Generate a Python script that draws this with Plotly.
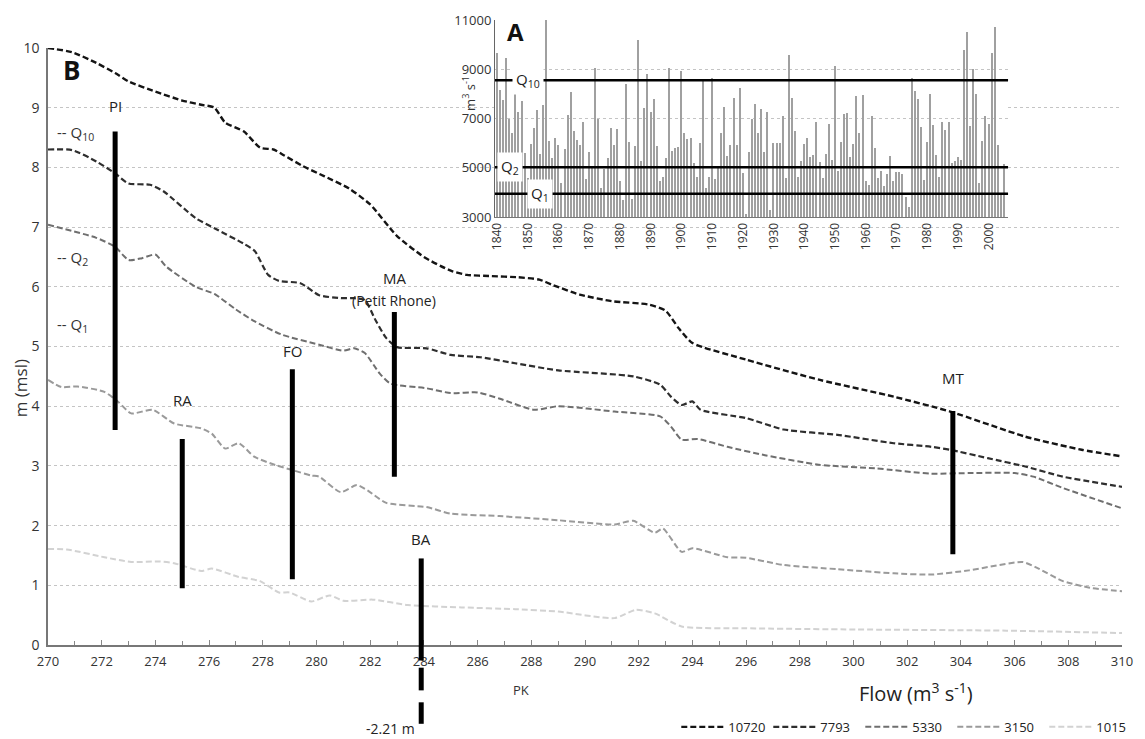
import plotly.graph_objects as go

# ---------------- main panel (B): water level profiles ----------------
km_10720 = [270, 270.9, 271.8, 272.5, 273, 274, 275, 275.7, 276.2, 276.6, 277.3, 277.9, 278.4, 278.8, 279.5,
            280.3, 281.2, 282, 283, 284, 285, 285.6, 286.5, 287.5, 288.3, 288.8, 289.8, 291, 292.4, 293,
            293.5, 294, 296, 298.75, 301.5, 303.6, 306.4, 308.5, 310]
lv_10720 = [10.0, 9.93, 9.75, 9.58, 9.44, 9.27, 9.12, 9.05, 9.0, 8.75, 8.6, 8.33, 8.3, 8.2, 8.02,
            7.85, 7.65, 7.38, 6.85, 6.5, 6.27, 6.2, 6.18, 6.16, 6.12, 6.03, 5.87, 5.76, 5.7, 5.6,
            5.3, 5.06, 4.78, 4.44, 4.16, 3.91, 3.49, 3.27, 3.16]

km_7793 = [270, 270.9, 271.8, 272.5, 273, 273.8, 274.3, 275.5, 276.2, 277.3, 277.7, 278.2, 278.6, 279.4,
           280.1, 280.9, 281.4, 281.8, 282.2, 282.6, 283, 284.1, 285, 286.1, 287.4, 289, 291.8, 292.8,
           293.2, 293.6, 294, 294.3, 296, 297.4, 299.4, 301.5, 302.9, 303.6, 305, 306.4, 307.8, 310]
lv_7793 = [8.3, 8.29, 8.1, 7.9, 7.73, 7.71, 7.6, 7.15, 6.98, 6.72, 6.6, 6.2, 6.1, 6.06,
           5.86, 5.81, 5.81, 5.78, 5.44, 5.14, 4.99, 4.97, 4.86, 4.82, 4.72, 4.6, 4.5, 4.36,
           4.16, 4.02, 4.08, 3.94, 3.8, 3.61, 3.52, 3.38, 3.32, 3.27, 3.13, 2.99, 2.82, 2.65]

km_5330 = [270, 271.8, 272.5, 273, 273.5, 274, 274.4, 275.5, 276.2, 277, 277.7, 278.7, 280.1, 281.0,
           281.4, 281.8, 282.35, 282.75, 284.1, 285, 286, 286.8, 288.1, 289, 291.1, 292.8, 293.2,
           293.6, 294.2, 295.3, 296.7, 298.7, 300.8, 302.9, 304.3, 306, 306.7, 307.8, 310]
lv_5330 = [7.04, 6.82, 6.67, 6.45, 6.48, 6.54, 6.34, 6.0, 5.88, 5.62, 5.42, 5.2, 5.03, 4.93,
           4.97, 4.89, 4.55, 4.38, 4.3, 4.22, 4.23, 4.13, 3.94, 4.0, 3.91, 3.83, 3.66,
           3.44, 3.45, 3.32, 3.18, 3.02, 2.96, 2.87, 2.88, 2.88, 2.82, 2.63, 2.29]

km_3150 = [270, 270.5, 271.1, 272.1, 272.6, 273.1, 273.9, 274.7, 275.7, 276.1, 276.6, 277.1, 277.7,
           278.5, 279.1, 279.8, 280.1, 280.9, 281.5, 281.9, 282.6, 284.1, 285, 286.8, 289, 291.1,
           291.8, 292.6, 292.9, 293.6, 294, 295.3, 296, 297.4, 299.4, 301.5, 302.9, 304.3, 306.3,
           306.8, 307.8, 308.8, 310]
lv_3150 = [4.44, 4.32, 4.33, 4.24, 4.08, 3.88, 3.94, 3.71, 3.63, 3.54, 3.29, 3.38, 3.15,
           3.01, 2.93, 2.84, 2.82, 2.56, 2.68, 2.59, 2.38, 2.31, 2.2, 2.16, 2.09, 2.02,
           2.08, 1.88, 1.95, 1.56, 1.62, 1.47, 1.46, 1.34, 1.27, 1.2, 1.18, 1.25, 1.39,
           1.3, 1.07, 0.96, 0.9]

km_1015 = [270, 270.7, 272.1, 273.1, 274.1, 274.7, 275.7, 276.1, 277.1, 277.9, 278.6, 279.0, 279.8,
           280.5, 281.0, 282.1, 283.4, 285.4, 287.4, 289, 291.1, 291.9, 292.6, 293.6, 296, 300.1,
           305.7, 310]
lv_1015 = [1.61, 1.6, 1.47, 1.39, 1.4, 1.37, 1.24, 1.28, 1.14, 1.07, 0.88, 0.88, 0.73,
           0.83, 0.74, 0.76, 0.67, 0.63, 0.6, 0.56, 0.45, 0.59, 0.53, 0.31, 0.28, 0.26,
           0.24, 0.2]

series_names = ["10720", "7793", "5330", "3150", "1015"]
series_km = [km_10720, km_7793, km_5330, km_3150, km_1015]
series_lv = [lv_10720, lv_7793, lv_5330, lv_3150, lv_1015]
series_col = ["#141414", "#2e2e2e", "#6f6f6f", "#9a9a9a", "#d2d2d2"]
series_w = [2.4, 2.2, 2.0, 2.0, 2.0]

# gauging stations: name, km, min level, max level
st_names = ["PI", "RA", "FO", "MA", "BA", "MT"]
st_km = [272.5, 275.0, 279.1, 282.9, 283.9, 303.7]
st_low = [3.6, 0.95, 1.1, 2.82, -2.21, 1.52]
st_high = [8.6, 3.45, 4.62, 5.58, 1.45, 3.92]
st_label_y = [9.03, 4.1, 4.93, 6.15, 1.78, 4.48]

# Q markers on main panel (m)
q_names = ["Q<sub>10</sub>", "Q<sub>2</sub>", "Q<sub>1</sub>"]
q_levels_m = [8.58, 6.48, 5.36]

# ---------------- inset (A): annual peak flow ----------------
years = list(range(1840, 2006))
flows = [
    9640, 8150, 7770, 9440, 6960, 6430, 8220, 7250, 7710, 5580,
    4600, 5950, 6600, 7350, 5550, 7550, 11000, 6090, 5380, 6200,
    5930, 4370, 5760, 7140, 8090, 6490, 6130, 5930, 6870, 4540,
    5650, 5000, 9050, 6980, 4190, 4950, 5380, 6600, 5930, 6580,
    4480, 3690, 8390, 6060, 3730, 5880, 10190, 5290, 7440, 8790,
    7250, 7790, 5900, 4460, 4640, 5380, 9040, 5680, 5820, 5860,
    8930, 6400, 6170, 6220, 5200, 4640, 5990, 8520, 4190, 4640,
    8660, 4530, 4980, 6400, 7450, 5480, 5930, 7850, 5930, 8250,
    4770, 3100, 5630, 6980, 7580, 6400, 7370, 5630, 7250, 3280,
    5990, 5990, 5990, 7120, 4570, 9580, 7820, 6490, 4610, 5290,
    5950, 6220, 5450, 5520, 6870, 5250, 4570, 5550, 6760, 5320,
    9150, 4870, 6060, 7170, 7210, 5450, 5950, 7910, 6400, 7960,
    4440, 4300, 7100, 5790, 4570, 4870, 4270, 4730, 5480, 4460,
    4840, 4830, 4760, 3810, 3400, 8650, 8130, 7790, 6660, 4490,
    6050, 7990, 6730, 5510, 4630, 6860, 6530, 6840, 5200, 5260,
    5440, 5300, 9780, 10500, 6690, 8990, 7990, 4380, 6090, 7100,
    6770, 9640, 10700, 5940, 3980, 5170,
]
inset_q_names = ["Q<sub>10</sub>", "Q<sub>2</sub>", "Q<sub>1</sub>"]
inset_q_flow = [8550, 5020, 3940]
inset_q_label_year = [1850.2, 1844.3, 1853.8]
inset_year_ticks = list(range(1840, 2001, 10))
inset_flow_ticks = [3000, 5000, 7000, 9000, 11000]

# ---------------- axis setup ----------------
X_RANGE = [270, 310]
Y_RANGE = [0, 10]
Y_DOMAIN = [0, 0.9476]
X2_RANGE = [1839.3, 2006.3]
Y2_RANGE = [3000, 11000]
FONT = "Open Sans"


def y_paper_from_domain(frac):
    return Y_DOMAIN[0] + frac * (Y_DOMAIN[1] - Y_DOMAIN[0])


def x_paper(km):
    return (km - X_RANGE[0]) / (X_RANGE[1] - X_RANGE[0])


fig = go.Figure()

for name, xs, ys, col, w in zip(series_names, series_km, series_lv, series_col, series_w):
    fig.add_trace(go.Scatter(
        x=xs, y=ys, mode="lines", name=name,
        line=dict(color=col, width=w, dash="6px,3px", shape="spline", smoothing=0.6),
        xaxis="x", yaxis="y",
    ))

fig.add_trace(go.Bar(
    x=years, y=flows, xaxis="x2", yaxis="y2", showlegend=False,
    marker=dict(color="#a0a0a0", line=dict(width=0)), width=0.45,
))

shapes = []
# white background for inset
shapes.append(dict(type="rect", xref="x2", yref="y2", x0=X2_RANGE[0], x1=X2_RANGE[1],
                   y0=Y2_RANGE[0], y1=Y2_RANGE[1], fillcolor="white", line=dict(width=0),
                   layer="below"))
# Q lines in inset
for q in inset_q_flow:
    shapes.append(dict(type="line", xref="x2 domain", yref="y2", x0=0, x1=1, y0=q, y1=q,
                       line=dict(color="black", width=2.5), layer="above"))

# station range bars
for nm, k, lo, hi in zip(st_names, st_km, st_low, st_high):
    shapes.append(dict(type="line", xref="x", yref="y", x0=k, x1=k, y0=max(lo, Y_RANGE[0]), y1=hi,
                       line=dict(color="black", width=5), layer="above"))
    if lo < Y_RANGE[0]:
        # broken extension below the axis (not to scale)
        xp = x_paper(k)
        for a, b in [(0.0, -0.026), (-0.038, -0.076), (-0.096, -0.132)]:
            shapes.append(dict(type="line", xref="paper", yref="paper", x0=xp, x1=xp,
                               y0=y_paper_from_domain(a), y1=y_paper_from_domain(b),
                               line=dict(color="black", width=5), layer="above"))

annotations = []
for nm, k, ly in zip(st_names, st_km, st_label_y):
    if nm == "MA":
        annotations.append(dict(x=k, y=ly, xref="x", yref="y", text="MA", showarrow=False,
                                font=dict(size=15, color="#222", family=FONT)))
        annotations.append(dict(x=k, y=ly - 0.38, xref="x", yref="y", text="(Petit Rhone)",
                                showarrow=False, font=dict(size=14, color="#222", family=FONT)))
    else:
        annotations.append(dict(x=k, y=ly, xref="x", yref="y", text=nm, showarrow=False,
                                font=dict(size=15, color="#222", family=FONT)))
    if nm == "BA":
        annotations.append(dict(x=k, y=y_paper_from_domain(-0.14), xref="x", yref="paper",
                                text=f"{st_low[st_names.index('BA')]} m", showarrow=False,
                                xanchor="right", yanchor="middle", xshift=-4,
                                font=dict(size=14, color="#222", family=FONT)))

for qn, ql in zip(q_names, q_levels_m):
    annotations.append(dict(x=270.25, y=ql, xref="x", yref="y", text="-- " + qn, showarrow=False,
                            xanchor="left", yanchor="middle",
                            font=dict(size=15, color="#333", family=FONT)))

for qn, qy, qf in zip(inset_q_names, inset_q_label_year, inset_q_flow):
    annotations.append(dict(x=qy, y=qf, xref="x2", yref="y2", text=qn, showarrow=False,
                            bgcolor="white", borderpad=3, yanchor="middle",
                            font=dict(size=15, color="#222", family=FONT)))

annotations += [
    dict(x=0.012, y=9.63, xref="paper", yref="y", text="<b>B</b>", showarrow=False, xanchor="left",
         yanchor="middle", font=dict(size=26, color="#111", family=FONT)),
    dict(x=0.02, y=0.94, xref="x2 domain", yref="y2 domain", text="<b>A</b>", showarrow=False,
         xanchor="left", yanchor="middle", font=dict(size=24, color="#111", family=FONT)),
    dict(x=-0.026, y=4.3, xref="paper", yref="y", text="m (msl)", showarrow=False, textangle=-90,
         xanchor="center", yanchor="middle", font=dict(size=17, color="#333", family=FONT)),
    dict(x=0.392, y=8000, xref="paper", yref="y2", text="m<sup>3</sup> s<sup>-1</sup>",
         showarrow=False, textangle=-90, xanchor="center", yanchor="middle",
         font=dict(size=13, color="#333", family=FONT)),
    dict(x=x_paper(287.6), y=-0.0714, xref="paper", yref="paper", text="PK", showarrow=False,
         yanchor="middle", font=dict(size=13, color="#333", family=FONT)),
    dict(x=0.808, y=-0.076, xref="paper", yref="paper", text="Flow (m<sup>3</sup> s<sup>-1</sup>)",
         showarrow=False, xanchor="center", yanchor="middle",
         font=dict(size=20, color="#222", family=FONT)),
]

fig.update_layout(
    width=1145, height=739,
    margin=dict(l=48, r=23, t=15, b=94, autoexpand=False),
    paper_bgcolor="white", plot_bgcolor="white",
    font=dict(family=FONT, color="#333"),
    bargap=0,
    shapes=shapes, annotations=annotations,
    showlegend=True,
    legend=dict(orientation="h", x=0.585, y=-0.13, xanchor="left", yanchor="middle",
                font=dict(size=13, color="#222", family=FONT), bgcolor="rgba(0,0,0,0)",
                itemwidth=42, entrywidth=35, entrywidthmode="pixels", tracegroupgap=0),
    xaxis=dict(domain=[0, 1], range=X_RANGE, tick0=270, dtick=2, ticks="inside", ticklen=5,
               tickcolor="#888", showline=True, linecolor="#777", linewidth=1.5, showgrid=False,
               zeroline=False, tickfont=dict(size=13, color="#333"), ticklabelstandoff=4,
               minor=dict(dtick=1, ticks="inside", ticklen=4, tickcolor="#888"), anchor="y"),
    yaxis=dict(domain=Y_DOMAIN, range=Y_RANGE, dtick=1, showgrid=True, gridcolor="#c4c4c4",
               griddash="dot", gridwidth=1, showline=True, linecolor="#777", linewidth=1.5,
               zeroline=False, ticks="", tickfont=dict(size=14, color="#333"),
               ticklabelstandoff=4, anchor="x"),
    xaxis2=dict(domain=[0.4162, 0.8939], range=X2_RANGE, tickvals=inset_year_ticks, tickangle=-90,
                tickfont=dict(size=12, color="#333"), showline=True, linecolor="#777",
                showgrid=False, zeroline=False, ticks="", anchor="y2"),
    yaxis2=dict(domain=[0.6794, 0.992], range=Y2_RANGE, tickvals=inset_flow_ticks, tickformat="d",
                tickfont=dict(size=13, color="#333"), showline=True, linecolor="#666",
                showgrid=True, gridcolor="#c4c4c4", griddash="dot", zeroline=False, ticks="",
                anchor="x2"),
)

fig.write_html("out.html")
